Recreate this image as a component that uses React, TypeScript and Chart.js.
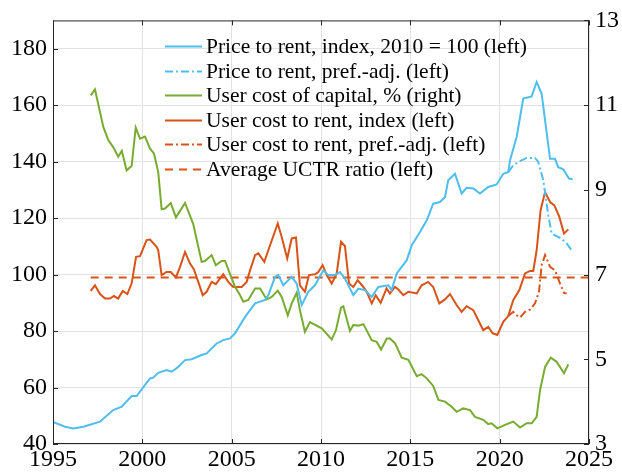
import React, { useEffect, useRef } from "react";
import { Chart, registerables } from "chart.js";

Chart.register(...registerables);

const FONT = "'Liberation Serif', 'Times New Roman', serif";

const xTicks = [1995, 2000, 2005, 2010, 2015, 2020, 2025];
const leftTicks = [40, 60, 80, 100, 120, 140, 160, 180];
const rightTicks = [3, 5, 7, 9, 11, 13];

const priceYears = [1995.0, 1995.67, 1996.14, 1996.7, 1997.63, 1998.37, 1998.85, 1999.4, 1999.68, 2000.43, 2000.61, 2000.89, 2001.36, 2001.64, 2002.01, 2002.39, 2002.76, 2003.32, 2003.6, 2004.16, 2004.53, 2004.91, 2005.19, 2005.75, 2006.31, 2006.87, 2007.05, 2007.43, 2007.61, 2007.89, 2008.36, 2008.64, 2008.92, 2009.29, 2009.66, 2010.13, 2010.41, 2010.78, 2011.06, 2011.34, 2011.81, 2012.09, 2012.46, 2012.84, 2013.21, 2013.77, 2013.95, 2014.24, 2014.8, 2015.08, 2015.54, 2015.92, 2016.28, 2016.66, 2016.94, 2017.12, 2017.5, 2017.87, 2018.15, 2018.52, 2018.9, 2019.36, 2019.83, 2020.2, 2020.48, 2020.58, 2020.95, 2021.32, 2021.79, 2022.07, 2022.35, 2022.82, 2023.1, 2023.28, 2023.56, 2023.88, 2024.09];
const priceValues = [47.8, 46.1, 45.5, 46.1, 47.9, 52, 53.2, 57, 57, 63.2, 63.5, 65.2, 66.2, 65.6, 67.3, 69.7, 70, 71.5, 72.1, 75.6, 76.8, 77.4, 79.2, 85, 89.8, 91, 92.7, 99.2, 99.8, 96.2, 99.2, 96.8, 89.2, 93.9, 96.2, 101.5, 99.8, 99.8, 100.9, 98.6, 92.7, 95, 94.5, 92.1, 95.6, 96.2, 94.5, 100.4, 105.1, 110.4, 115.1, 119.2, 125.1, 125.7, 127.5, 133.4, 135.7, 128.7, 130.7, 130.5, 128.7, 131, 131.9, 135.7, 136.3, 140.5, 148.7, 162.3, 163.1, 168.2, 164, 141, 141, 138, 137.3, 134, 133.7];

const pricePrefYears = [2020.48, 2020.76, 2021.14, 2021.51, 2021.98, 2022.16, 2022.44, 2022.72, 2022.91, 2023.19, 2023.47, 2023.75, 2024.03];
const pricePrefValues = [136.3, 138.7, 140.2, 141.3, 141.3, 139.9, 133.4, 121, 114.5, 113.6, 112.7, 111, 108.6];

const ucYears = [1997.11, 1997.35, 1997.82, 1998.1, 1998.37, 1998.65, 1998.85, 1999.12, 1999.4, 1999.63, 1999.87, 2000.15, 2000.43, 2000.65, 2000.89, 2001.08, 2001.27, 2001.59, 2001.88, 2002.39, 2002.85, 2003.32, 2003.51, 2003.88, 2004.11, 2004.44, 2004.63, 2005.0, 2005.19, 2005.47, 2005.65, 2005.93, 2006.31, 2006.59, 2006.96, 2007.24, 2007.58, 2007.8, 2008.14, 2008.36, 2008.64, 2008.82, 2009.1, 2009.38, 2010.04, 2010.6, 2010.84, 2011.12, 2011.25, 2011.62, 2011.81, 2012.09, 2012.37, 2012.84, 2013.12, 2013.36, 2013.68, 2013.86, 2014.14, 2014.52, 2014.89, 2015.36, 2015.63, 2015.92, 2016.28, 2016.57, 2016.94, 2017.31, 2017.59, 2017.96, 2018.34, 2018.62, 2019.08, 2019.36, 2019.55, 2019.87, 2020.3, 2020.76, 2021.14, 2021.51, 2021.79, 2022.07, 2022.26, 2022.54, 2022.86, 2023.19, 2023.6, 2023.84];
const ucValues = [11.23, 11.37, 10.48, 10.17, 10.01, 9.78, 9.92, 9.46, 9.56, 10.47, 10.21, 10.26, 9.97, 9.86, 9.42, 8.54, 8.56, 8.69, 8.35, 8.69, 8.19, 7.3, 7.32, 7.46, 7.22, 7.32, 7.32, 6.91, 6.71, 6.51, 6.36, 6.4, 6.67, 6.67, 6.41, 6.47, 6.62, 6.47, 6.04, 6.32, 6.57, 6.16, 5.65, 5.88, 5.73, 5.47, 5.69, 6.22, 6.25, 5.67, 5.81, 5.79, 5.83, 5.45, 5.41, 5.23, 5.49, 5.49, 5.38, 5.04, 4.99, 4.6, 4.65, 4.55, 4.37, 4.04, 4.0, 3.88, 3.76, 3.84, 3.8, 3.64, 3.57, 3.47, 3.49, 3.37, 3.45, 3.53, 3.39, 3.49, 3.49, 3.64, 4.27, 4.82, 5.04, 4.94, 4.67, 4.88];

const uctrYears = [1997.11, 1997.35, 1997.63, 1997.91, 1998.19, 1998.41, 1998.65, 1998.9, 1999.16, 1999.4, 1999.65, 1999.87, 2000.24, 2000.43, 2000.8, 2000.89, 2001.08, 2001.36, 2001.59, 2001.88, 2002.11, 2002.39, 2002.67, 2002.89, 2003.13, 2003.38, 2003.6, 2003.88, 2004.11, 2004.53, 2004.81, 2005.09, 2005.56, 2005.84, 2006.03, 2006.31, 2006.49, 2006.83, 2007.05, 2007.58, 2007.8, 2008.11, 2008.36, 2008.6, 2008.82, 2009.1, 2009.33, 2009.66, 2009.85, 2010.09, 2010.32, 2010.6, 2010.88, 2011.12, 2011.34, 2011.57, 2011.81, 2012.05, 2012.37, 2012.56, 2012.84, 2013.06, 2013.34, 2013.67, 2013.86, 2014.14, 2014.33, 2014.61, 2014.89, 2015.36, 2015.63, 2016.0, 2016.28, 2016.62, 2016.94, 2017.22, 2017.59, 2017.87, 2018.15, 2018.52, 2018.8, 2019.08, 2019.36, 2019.61, 2019.87, 2020.2, 2020.48, 2020.76, 2021.1, 2021.42, 2021.7, 2021.88, 2022.07, 2022.29, 2022.54, 2022.82, 2023.06, 2023.34, 2023.6, 2023.84];
const uctrValues = [94.2, 96.2, 93.1, 91.5, 91.5, 92.4, 91.5, 94.2, 93.1, 96.8, 106.3, 106.5, 112.2, 112.4, 109.8, 108.6, 99.8, 100.9, 100.9, 99, 102.7, 108, 103.9, 101.8, 97.4, 92.7, 93.9, 97.4, 96.6, 100.1, 97.4, 95.6, 95.6, 97.4, 101.5, 106.9, 107.5, 104.5, 108.6, 118.1, 113.3, 105.7, 112.8, 113.1, 96.2, 93.9, 99.8, 100.1, 100.9, 103.3, 99.8, 96.8, 100.4, 111.6, 110.1, 96.8, 95.6, 98, 95.6, 93.9, 89.8, 92.7, 90, 95.1, 93.3, 95.6, 94.7, 92.7, 93.9, 93.3, 96.2, 97.4, 95.6, 89.8, 91.2, 93.1, 89.2, 86.8, 88.8, 87.4, 83.9, 80.3, 81.5, 79.2, 78.6, 83.3, 85.3, 90.9, 94.5, 100.4, 101.3, 101.3, 108.6, 122.8, 129.2, 125.7, 124.5, 120.4, 114.5, 116];

const uctrPrefYears = [2020.48, 2020.76, 2020.95, 2021.14, 2021.42, 2021.7, 2021.98, 2022.2, 2022.35, 2022.54, 2022.82, 2023.1, 2023.38, 2023.6, 2023.75];
const uctrPrefValues = [85.3, 86.8, 85.6, 84.8, 86.8, 87.6, 89.8, 93.9, 103.3, 106.9, 102.7, 101.5, 96.8, 93.5, 93.3];

const avgYears = [1997.11, 2025];
const avgValues = [99, 99];

const BLUE = "#4DBEEE";
const GREEN = "#77AC30";
const ORANGE = "#D95319";
const GRID = "#e2e2e2";
const AXIS = "#262626";

const pts = (xs: number[], ys: number[]) => xs.map((x, i) => ({ x, y: ys[i] }));

const framePlugin = {
  id: "frame",
  afterDatasetsDraw(chart: any) {
    const { ctx, chartArea: a, scales } = chart;
    ctx.save();
    ctx.strokeStyle = AXIS;
    ctx.lineWidth = 1;
    ctx.setLineDash([]);
    ctx.strokeRect(a.left + 0.5, a.top + 0.5, a.right - a.left - 1, a.bottom - a.top - 1);
    const L = 5;
    ctx.beginPath();
    xTicks.forEach((t) => {
      const px = Math.round(scales.x.getPixelForValue(t)) + 0.5;
      ctx.moveTo(px, a.bottom);
      ctx.lineTo(px, a.bottom - L);
      ctx.moveTo(px, a.top);
      ctx.lineTo(px, a.top + L);
    });
    leftTicks.forEach((t) => {
      const py = Math.round(scales.y.getPixelForValue(t)) + 0.5;
      ctx.moveTo(a.left, py);
      ctx.lineTo(a.left + L, py);
    });
    rightTicks.forEach((t) => {
      const py = Math.round(scales.y1.getPixelForValue(t)) + 0.5;
      ctx.moveTo(a.right, py);
      ctx.lineTo(a.right - L, py);
    });
    ctx.stroke();
    ctx.restore();
  },
};

const legendPlugin = {
  id: "insideLegend",
  afterDraw(chart: any) {
    const { ctx, chartArea: a } = chart;
    ctx.save();
    ctx.font = `21.5px ${FONT}`;
    ctx.textBaseline = "middle";
    ctx.textAlign = "left";
    const x0 = a.left + 112;
    const y0 = a.top + 25.5;
    const step = 24.6;
    chart.data.datasets.forEach((ds: any, i: number) => {
      const y = Math.round(y0 + i * step) + 0.5;
      ctx.strokeStyle = ds.borderColor;
      ctx.lineWidth = ds.borderWidth;
      ctx.setLineDash(ds.borderDash || []);
      ctx.beginPath();
      ctx.moveTo(x0, y);
      ctx.lineTo(x0 + 37, y);
      ctx.stroke();
      ctx.setLineDash([]);
      ctx.fillStyle = "#000";
      ctx.fillText(ds.label, x0 + 41, y + 1);
    });
    ctx.restore();
  },
};

export default function App() {
  const ref = useRef<HTMLCanvasElement | null>(null);

  useEffect(() => {
    if (!ref.current) return;
    const line = (label: string, data: any[], color: string, axis: string, dash: number[] = []) => ({
      label,
      data,
      borderColor: color,
      backgroundColor: color,
      borderWidth: 2,
      borderDash: dash,
      pointRadius: 0,
      fill: false,
      tension: 0,
      yAxisID: axis,
    });
    const chart = new Chart(ref.current, {
      type: "line",
      data: {
        datasets: [
          line("Price to rent, index, 2010 = 100 (left)", pts(priceYears, priceValues), BLUE, "y"),
          line("Price to rent, pref.-adj. (left)", pts(pricePrefYears, pricePrefValues), BLUE, "y", [8, 3, 2, 3]),
          line("User cost of capital, % (right)", pts(ucYears, ucValues), GREEN, "y1"),
          line("User cost to rent, index (left)", pts(uctrYears, uctrValues), ORANGE, "y"),
          line("User cost to rent, pref.-adj. (left)", pts(uctrPrefYears, uctrPrefValues), ORANGE, "y", [8, 3, 2, 3]),
          line("Average UCTR ratio (left)", pts(avgYears, avgValues), ORANGE, "y", [8, 6]),
        ],
      },
      options: {
        animation: false,
        responsive: false,
        devicePixelRatio: 1,
        layout: { padding: { top: 20, left: 0, right: 0, bottom: 0 } },
        plugins: { legend: { display: false }, tooltip: { enabled: false } },
        scales: {
          x: {
            type: "linear",
            min: 1995,
            max: 2025,
            afterBuildTicks: (s: any) => {
              s.ticks = xTicks.map((v) => ({ value: v }));
            },
            afterFit: (s: any) => {
              s.height = 31;
            },
            grid: { color: GRID, drawTicks: false },
            border: { display: false },
            ticks: {
              font: { family: FONT, size: 24 },
              color: "#000",
              padding: 1,
              maxRotation: 0,
              autoSkip: false,
              callback: (v: any) => String(v),
            },
          },
          y: {
            position: "left",
            min: 40,
            max: 190,
            afterBuildTicks: (s: any) => {
              s.ticks = leftTicks.map((v) => ({ value: v }));
            },
            afterFit: (s: any) => {
              s.width = 53;
            },
            grid: { color: GRID, drawTicks: false },
            border: { display: false },
            ticks: {
              font: { family: FONT, size: 24 },
              color: "#000",
              padding: 6,
              autoSkip: false,
              callback: (v: any) => String(v),
            },
          },
          y1: {
            position: "right",
            min: 3,
            max: 13,
            afterBuildTicks: (s: any) => {
              s.ticks = rightTicks.map((v) => ({ value: v }));
            },
            afterFit: (s: any) => {
              s.width = 33;
            },
            grid: { display: false, drawTicks: false },
            border: { display: false },
            ticks: {
              font: { family: FONT, size: 24 },
              color: "#000",
              padding: 6,
              autoSkip: false,
              callback: (v: any) => String(v),
            },
          },
        },
      },
      plugins: [framePlugin, legendPlugin],
    });
    return () => chart.destroy();
  }, []);

  return (
    <div style={{ position: "fixed", left: 0, top: 0, width: 622, height: 475, background: "#fff" }}>
      <canvas ref={ref} width={622} height={475} style={{ display: "block" }} />
    </div>
  );
}
